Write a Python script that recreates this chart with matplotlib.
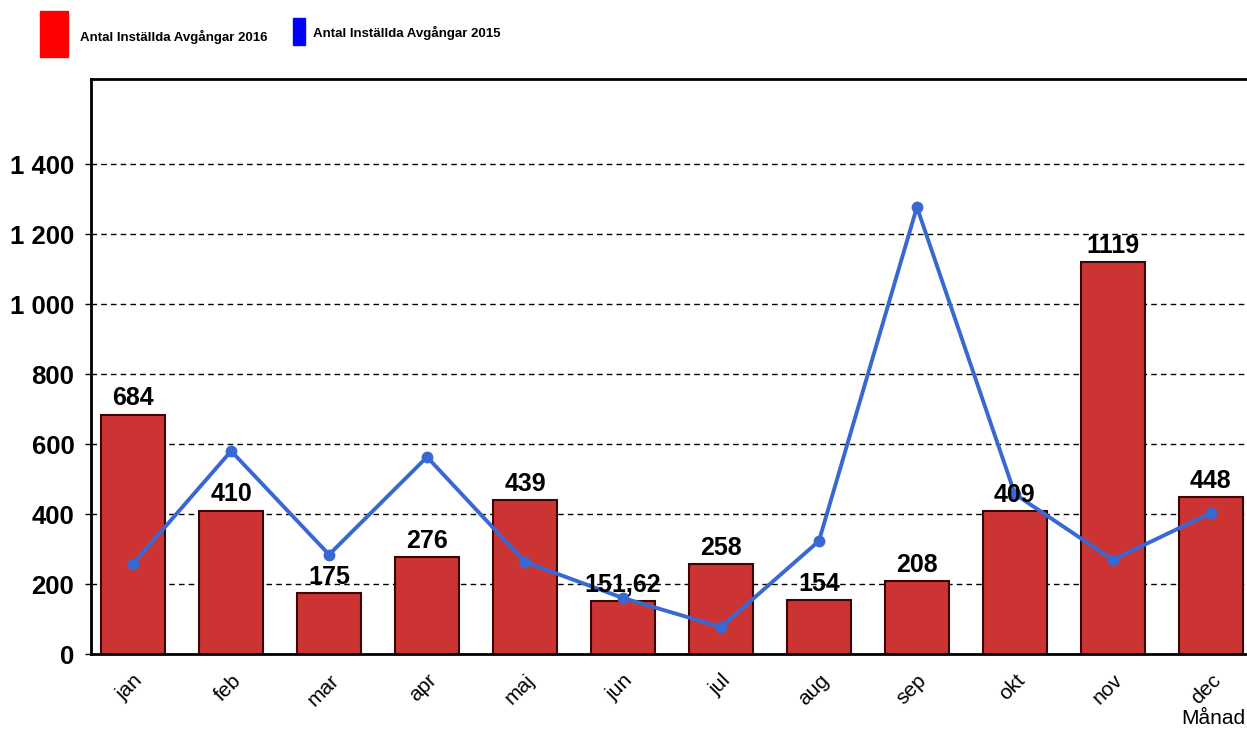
import matplotlib
matplotlib.use("Agg")
import matplotlib.pyplot as plt
from matplotlib.patches import Rectangle
from matplotlib.ticker import FuncFormatter

# Data
months = ["jan", "feb", "mar", "apr", "maj", "jun", "jul", "aug", "sep", "okt", "nov", "dec"]
cancelled_2016 = [684, 410, 175, 276, 439, 151.62, 258, 154, 208, 409, 1119, 448]
cancelled_2015 = [258, 580, 284, 563, 263, 160, 77, 323, 1277, 457, 269, 403]
y_ticks = [0, 200, 400, 600, 800, 1000, 1200, 1400]
legend_labels = ["Antal Inställda Avgångar 2016", "Antal Inställda Avgångar 2015"]

plt.rcParams["font.family"] = ["Liberation Sans", "DejaVu Sans"]

W, H = 1247, 729
fig = plt.figure(figsize=(W / 100, H / 100), dpi=100)
ax = fig.add_axes([91 / W, 1 - 654 / H, 1.0 - 91 / W + 0.004, (654 - 79) / H])

x = list(range(len(months)))

# bars
ax.bar(x, cancelled_2016, width=0.65, color="#cc3333", edgecolor="#3a0505",
       linewidth=1.5, zorder=2)

# bar labels
for xi, v in zip(x, cancelled_2016):
    txt = f"{v:g}".replace(".", ",")
    ax.annotate(txt, (xi, v), xytext=(0, 3), textcoords="offset points",
                ha="center", va="bottom", fontsize=18, fontweight="bold", zorder=4)

# 2015 line
ax.plot(x, cancelled_2015, color="#3a68d2", linewidth=2.8, marker="o",
        markersize=7.5, zorder=3)

ax.set_xlim(-0.43, 11.42)
ax.set_ylim(0, 1643)
ax.set_yticks(y_ticks)
ax.yaxis.set_major_formatter(FuncFormatter(lambda v, p: f"{int(v):,}".replace(",", " ")))
ax.grid(axis="y", color="black", linestyle=(0, (4, 3)), linewidth=1, zorder=1)
ax.set_axisbelow(True)

ax.set_xticks(x)
ax.set_xticklabels(months, rotation=45, ha="right", rotation_mode="anchor", fontsize=15)
ax.tick_params(axis="x", length=0, pad=12)
ax.tick_params(axis="y", length=4, width=1, labelsize=18.5, pad=8)
for lab in ax.get_yticklabels():
    lab.set_fontweight("bold")

for s in ["left", "top", "bottom"]:
    ax.spines[s].set_linewidth(2)
    ax.spines[s].set_color("black")
ax.spines["right"].set_visible(False)

fig.text(1245 / W, 1 - 718 / H, "Månad", ha="right", va="center", fontsize=15)

# legend boxes
fig.add_artist(Rectangle((40 / W, 1 - 57 / H), 28 / W, 46 / H, transform=fig.transFigure,
                         color="#ff0000"))
fig.add_artist(Rectangle((293 / W, 1 - 45 / H), 12 / W, 27 / H, transform=fig.transFigure,
                         color="#0000ff"))
fig.text(80 / W, 1 - 37 / H, legend_labels[0], ha="left", va="center", fontsize=9.5,
         fontweight="bold")
fig.text(313 / W, 1 - 33 / H, legend_labels[1], ha="left", va="center", fontsize=9.5,
         fontweight="bold")

fig.savefig("out.png", dpi=100)
